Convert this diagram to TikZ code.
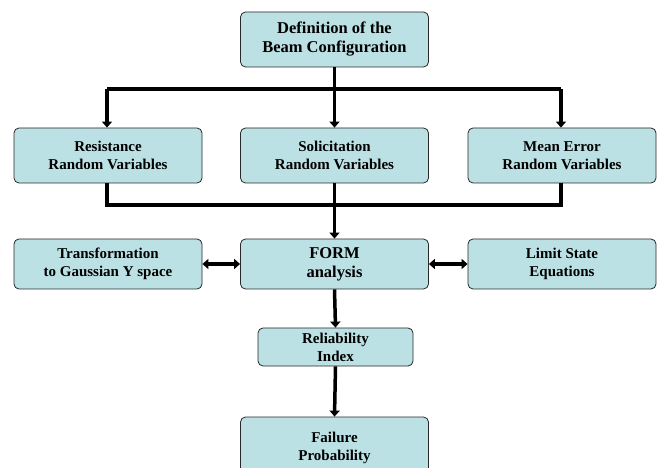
\documentclass[tikz,border=0pt]{standalone}
\usepackage{fontspec}
\setmainfont{Liberation Serif}
\usetikzlibrary{arrows.meta}
\definecolor{boxfill}{RGB}{188,225,228}
\definecolor{boxline}{RGB}{40,40,40}
\begin{document}
\begin{tikzpicture}[x=1pt,y=-1pt,
  box/.style={draw=boxline, line width=0.8pt, fill=boxfill, rounded corners=5pt,
    align=center, inner sep=0pt, font=\bfseries\fontsize{15}{18}\selectfont},
  wide/.style={minimum width=188pt},
  tall/.style={minimum height=55pt},
  big/.style={font=\bfseries\fontsize{16.5}{19}\selectfont},
  link/.style={line width=3.5pt, line join=miter},
  arr/.style={link, -{Triangle[length=6pt,width=10pt]}},
  darr/.style={link, {Triangle[length=6pt,width=10pt]}-{Triangle[length=6pt,width=10pt]}}]
\clip (0,0) rectangle (657,468);
\fill[white] (0,0) rectangle (657,468);
% boxes
\node[box,big,wide,tall] (top) at (334.5,39.5) {Definition of the\\Beam Configuration};
\node[box,wide,tall] (res) at (108,155.5) {Resistance\\Random Variables};
\node[box,wide,tall] (sol) at (334.5,155.5) {Solicitation\\Random Variables};
\node[box,wide,tall] (mer) at (562,155.5) {Mean Error\\Random Variables};
\node[box,wide,minimum height=50pt] (tra) at (108,264) {Transformation\\to Gaussian Y space};
\node[box,big,wide,minimum height=50pt] (form) at (334.5,264) {FORM\\analysis};
\node[box,wide,minimum height=50pt] (lim) at (562,264) {Limit State\\Equations};
\node[box,minimum width=155pt,minimum height=38pt] (rel) at (335.5,347) {Reliability\\Index};
\node[box,wide,minimum height=62pt] (fail) at (334.5,448) {Failure\\Probability};
% bus coordinates
\coordinate (busL) at (107,89);
\coordinate (busR) at (561,89);
\coordinate (mrgL) at (107,205);
\coordinate (mrgR) at (561,205);
% connectors
\draw[arr] (top.south) -- (sol.north);
\draw[link] (busL) -- (busR);
\draw[arr] (busL) -- (busL |- res.north);
\draw[arr] (busR) -- (busR |- mer.north);
\draw[link] (mrgL |- res.south) -- (mrgL) -- (mrgR) -- (mrgR |- mer.south);
\draw[arr] (sol.south) -- (form.north);
\draw[darr] (tra.east) -- (form.west);
\draw[darr] (form.east) -- (lim.west);
\draw[arr] (form.south) -- (rel.north);
\draw[arr] (rel.south) -- (fail.north);
\end{tikzpicture}
\end{document}
